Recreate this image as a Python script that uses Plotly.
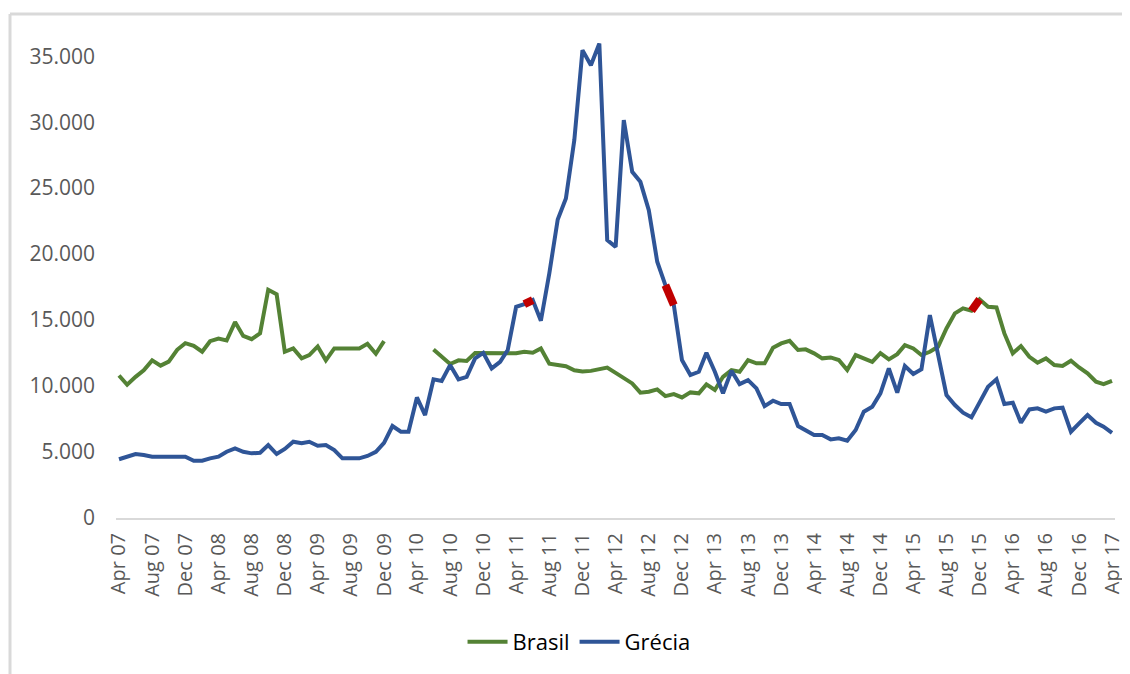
import plotly.graph_objects as go
import pandas as pd

# monthly, Apr 2007 .. Apr 2017
months = pd.date_range("2007-04-01", "2017-04-01", freq="MS")

brasil = [10800, 10100, 10700, 11200, 11950, 11550, 11850, 12750, 13250, 13050,
          12600, 13400, 13600, 13450, 14850, 13800, 13550, 14000, 17300, 16950,
          12600, 12850, 12100, 12350, 13000, 11950, 12850, 12850, 12850, 12850,
          13200, 12450, 13400, None, None, None, None, None, 12780, 12220,
          11670, 11950, 11900, 12500, 12500, 12500, 12500, 12500, 12480, 12600,
          12520, 12850, 11700, 11600, 11500, 11200, 11100, 11150, 11300, 11400,
          11000, 10600, 10200, 9500, 9570, 9750, 9240, 9390, 9140, 9520,
          9450, 10130, 9700, 10700, 11210, 11080, 11970, 11720, 11720, 12900,
          13230, 13430, 12730, 12780, 12480, 12100, 12170, 11970, 11210, 12350,
          12100, 11840, 12500, 12020, 12420, 13100, 12850, 12350, 12600, 12980,
          14370, 15510, 15890, 15710, 16570, 16010, 15960, 13990, 12480, 13030,
          12220, 11770, 12100, 11590, 11520, 11920, 11410, 10960, 10330, 10150,
          10400]

grecia = [4450, 4650, 4850, 4770, 4650, 4650, 4650, 4600, 4650, 4340,
          4340, 4520, 4650, 5020, 5280, 5020, 4900, 4950, 5530, 4850,
          5230, 5780, 5660, 5780, 5480, 5530, 5150, 4520, 4520, 4520,
          4700, 5020, 5700, 6970, 6540, 6540, 9140, 7800, 10510, 10380,
          11590, 10510, 10700, 12100, 12520, 11340, 11840, 12730, 16010, 16210,
          16520, 14950, 18540, 22630, 24220, 28640, 35460, 34320, 35960, 21060,
          20550, 30150, 26240, 25480, 23330, 19420, 17650, 16140, 11970, 10830,
          11080, 12520, 11080, 9450, 11160, 10150, 10450, 9830, 8480, 8890,
          8640, 8640, 6970, 6670, 6290, 6290, 5960, 6040, 5860, 6670,
          8060, 8430, 9450, 11340, 9500, 11520, 10910, 11270, 15380, 12400,
          9320, 8560, 7980, 7630, 8810, 9950, 10510, 8640, 8740, 7220,
          8230, 8310, 8060, 8310, 8360, 6540, 7170, 7800, 7220, 6920,
          6460]

# highlighted (red) segments: (series, first month index, last month index)
highlights = [("grecia", 49, 50), ("grecia", 66, 67), ("brasil", 103, 104)]

GREEN = "#548235"
BLUE = "#2F5597"
RED = "#C00000"

fig = go.Figure()
fig.add_trace(go.Scatter(x=months, y=brasil, mode="lines", name="Brasil",
                         line=dict(color=GREEN, width=4), connectgaps=False))
fig.add_trace(go.Scatter(x=months, y=grecia, mode="lines", name="Grécia",
                         line=dict(color=BLUE, width=4)))

series = {"brasil": brasil, "grecia": grecia}
for name, a, b in highlights:
    fig.add_trace(go.Scatter(x=months[a:b + 1], y=series[name][a:b + 1], mode="lines",
                             line=dict(color=RED, width=8), showlegend=False,
                             hoverinfo="skip"))

# page body adds an 8px offset, margins compensate for it
fig.update_layout(
    width=1130, height=674,
    margin=dict(l=108, r=23, t=35, b=164),
    paper_bgcolor="white", plot_bgcolor="white",
    separators=",.",
    font=dict(family="Open Sans, Lato, sans-serif", color="#595959"),
    showlegend=True,
    legend=dict(orientation="h", x=0.4635, xanchor="center", y=-0.261, yanchor="middle",
                font=dict(size=22, color="black"), itemwidth=40),
)

fig.update_xaxes(
    type="date",
    range=["2007-03-21", "2017-04-12"],
    tick0="2007-04-01", dtick="M4", tickformat="%b %y",
    tickangle=-90, tickfont=dict(size=20, color="#595959"),
    ticklabelstandoff=5,
    showgrid=False, zeroline=False,
    showline=True, linecolor="#D9D9D9", linewidth=2,
    ticks="",
)
fig.update_yaxes(
    range=[0, 36000], tickvals=[0, 5000, 10000, 15000, 20000, 25000, 30000, 35000],
    tickformat=",.0f", tickfont=dict(size=21, color="#595959"),
    ticklabelstandoff=20,
    showgrid=False, zeroline=False, showline=False,
)

# outer chart border (left and top edges only visible in the crop)
fig.add_shape(type="line", xref="paper", yref="paper",
              x0=-0.1061, x1=-0.1061, y0=1.0611, y1=-0.33,
              line=dict(color="#D9D9D9", width=3))
fig.add_shape(type="line", xref="paper", yref="paper",
              x0=-0.1061, x1=1.03, y0=1.0611, y1=1.0611,
              line=dict(color="#D9D9D9", width=3))

fig.write_html("out.html")
